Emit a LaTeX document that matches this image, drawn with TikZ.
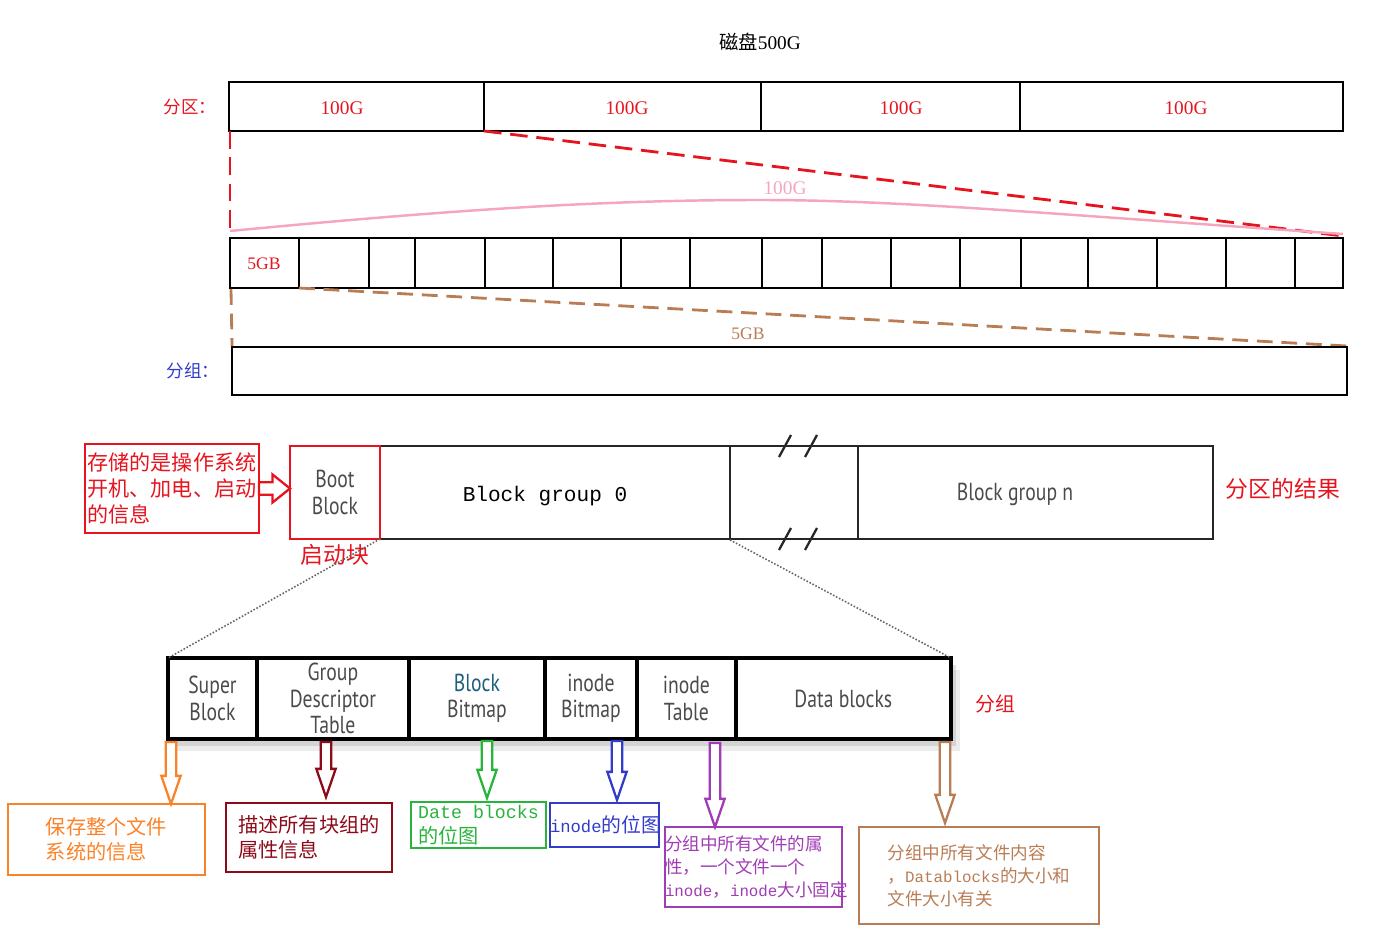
\documentclass[tikz,border=0pt]{standalone}
\usepackage{fontspec}
\setmainfont{Liberation Serif}
\newfontfamily\cjk{Noto Sans CJK SC}
\newfontfamily\codefont{Liberation Mono}
\newfontfamily\condfont[FakeStretch=0.8]{PT Sans}
\usepackage{tikz}
\usetikzlibrary{arrows.meta,calc,shadows}

\definecolor{cRed}{RGB}{230,20,30}
\definecolor{cPink}{RGB}{245,165,190}
\definecolor{cBrown}{RGB}{185,125,85}
\definecolor{cBlue}{RGB}{50,60,200}
\definecolor{cOrange}{RGB}{250,130,40}
\definecolor{cDarkRed}{RGB}{140,10,25}
\definecolor{cGreen}{RGB}{40,180,60}
\definecolor{cPurple}{RGB}{160,60,180}
\definecolor{cGray}{RGB}{75,75,75}
\definecolor{cTeal}{RGB}{30,95,125}

\begin{document}
\begin{tikzpicture}[x=0.02cm, y=-0.02cm, >=Stealth,
    row/.style={line width=1.6pt},
    cell/.style={draw, line width=2pt, minimum height=1.62cm, inner sep=0pt, outer sep=0pt,
      anchor=north west, align=center, text=cGray, font=\condfont\fontsize{14}{15}\selectfont},
    note/.style={draw=#1, line width=1.4pt, text=#1, inner sep=0pt, outer sep=0pt, anchor=north west,
      align=left, font=\cjk\fontsize{11.5}{14.5}\selectfont},
    hollow/.style={draw=#1, line width=1.3pt, fill=white,
      to path={let \p1=(\tikztostart), \p2=(\tikztotarget) in
        (\x1-3pt,\y1) -- (\x1-3pt,\y2+16pt) -- (\x1-5.5pt,\y2+16pt) -- (\x1,\y2)
        -- (\x1+5.5pt,\y2+16pt) -- (\x1+3pt,\y2+16pt) -- (\x1+3pt,\y1) -- cycle}},
    hollowR/.style={draw=#1, line width=1.3pt, fill=white,
      to path={let \p1=(\tikztostart), \p2=(\tikztotarget) in
        (\x1,\y1+3.6pt) -- (\x2-10pt,\y1+3.6pt) -- (\x2-10pt,\y1+8pt) -- (\x2,\y1)
        -- (\x2-10pt,\y1-8pt) -- (\x2-10pt,\y1-3.6pt) -- (\x1,\y1-3.6pt) -- cycle}}]
    \useasboundingbox (0,0) rectangle (1400,935);

    % Disk title
    \node[font=\fontsize{11}{13}\selectfont] (disk) at (760,42) {{\cjk 磁盘}500G};

    % Partition row
    \node[cRed, font=\cjk\fontsize{10}{12}\selectfont] (partlbl) at (190,107) {分区：};
    \draw[row] (229,82) rectangle (1343,131);
    \foreach \x in {484,761,1020} \draw[row] (\x,82) -- (\x,131);
    \foreach \x [count=\i] in {342,627,901,1186}
        \node[cRed, font=\fontsize{11}{13}\selectfont] (part\i) at (\x,108) {100G};

    % Zoom of first partition
    \draw[cRed, line width=1.6pt, dash pattern=on 10pt off 5pt] (230,131) -- (230,236);
    \draw[cRed, line width=1.6pt, dash pattern=on 10pt off 5pt] (484,131) -- (1343,236);
    \draw[cPink, line width=1.4pt] (230,231) .. controls (450,210) and (600,200) .. (760,200)
        .. controls (900,200) and (1050,214) .. (1343,234);
    \node[cPink, font=\fontsize{11}{13}\selectfont] (pinklbl) at (785,188) {100G};

    % Row of 5GB groups
    \draw[row] (230,238) rectangle (1343,288);
    \foreach \x in {299,369,415,485,553,621,690,762,822,891,960,1021,1088,1157,1226,1295}
        \draw[row] (\x,238) -- (\x,288);
    \node[cRed, font=\fontsize{10}{12}\selectfont] (first) at (264,264) {5GB};

    % Zoom of first group
    \draw[cBrown, line width=1.6pt, dash pattern=on 9pt off 5pt] (231,289) -- (232,346);
    \draw[cBrown, line width=1.6pt, dash pattern=on 9pt off 5pt] (299,288) -- (1347,346);
    \node[cBrown, font=\fontsize{10}{12}\selectfont] (brownlbl) at (748,334) {5GB};
    \node[cBlue, font=\cjk\fontsize{10}{12}\selectfont] (grplbl) at (193,371) {分组：};
    \draw[row] (232,347) rectangle (1347,395);

    % Partition layout: block groups
    \draw[line width=1.6pt, black!85] (290,446) rectangle (1213,539);
    \foreach \x in {730,858} \draw[line width=1.6pt, black!85] (\x,446) -- (\x,539);
    \foreach \dx in {0,26} \foreach \yy in {446,539}
        \draw[line width=1.3pt, black!85] (779+\dx,\yy+11) -- (791+\dx,\yy-11);
    \node[draw=cRed, line width=1.6pt, minimum width=1.8cm, minimum height=1.86cm, anchor=north west,
        outer sep=0pt, align=center, text=cGray, font=\condfont\fontsize{14}{15}\selectfont]
        (boot) at (290,446) {Boot\\Block};
    \node[font=\codefont\fontsize{12}{14}\selectfont] (bg0) at (545,496) {Block group 0};
    \node[text=cGray, font=\condfont\fontsize{14}{15}\selectfont] (bgn) at (1015,494) {Block group n};
    \coordinate (bg0se) at (730,540);
    \node[cRed, font=\cjk\fontsize{13}{15}\selectfont] (result) at (1283,489) {分区的结果};
    \node[cRed, font=\cjk\fontsize{13}{15}\selectfont] (bootlbl) at (335,555) {启动块};
    \node[note=cRed, font=\cjk\fontsize{12}{14.7}\selectfont, minimum width=3.48cm, minimum height=1.78cm]
        (bootnote) at (85,444) {存储的是操作系统\\开机、加电、启动\\的信息};
    \draw[hollowR=cRed] (bootnote.east) to (boot.west |- bootnote.east);

    % Block group layout
    \fill[white, drop shadow={opacity=0.22, shadow xshift=3pt, shadow yshift=-4pt},
        drop shadow={opacity=0.15, shadow xshift=5pt, shadow yshift=-7pt}] (168,658) rectangle (951,739);
    \node[cell, minimum width=1.78cm] (sb) at (168,658) {Super\\Block};
    \node[cell, minimum width=3.04cm] (gd) at (sb.north east) {Group\\Descriptor\\Table};
    \node[cell, minimum width=2.72cm] (bb) at (gd.north east) {\textcolor{cTeal}{Block}\\Bitmap};
    \node[cell, minimum width=1.84cm] (ib) at (bb.north east) {inode\\Bitmap};
    \node[cell, minimum width=1.98cm] (it) at (ib.north east) {inode\\Table};
    \node[cell, minimum width=4.3cm] (db) at (it.north east) {Data blocks};
    \draw[densely dotted, line width=0.9pt, black!60] (boot.south east) -- (sb.north west);
    \draw[densely dotted, line width=0.9pt, black!60] (bg0se) -- (db.north east);
    \node[cRed, font=\cjk\fontsize{11.3}{13}\selectfont] (grp) at (995,704) {分组};

    % Notes under each part
    \node[note=cOrange, minimum width=3.94cm, minimum height=1.42cm] (sbnote) at (8,804)
        {保存整个文件\\系统的信息};
    \node[note=cDarkRed, minimum width=3.32cm, minimum height=1.38cm] (gdnote) at (226,803)
        {描述所有块组的\\属性信息};
    \node[note=cGreen, minimum width=2.7cm, minimum height=0.92cm, font=\cjk\fontsize{11.5}{14}\selectfont]
        (bbnote) at (411,802) {{\codefont\fontsize{10.4}{14}\selectfont Date blocks}\\的位图};
    \node[note=cBlue, text width=2.18cm, minimum height=0.88cm,
        font=\cjk\fontsize{11.3}{14}\selectfont]
        (ibnote) at (550,803) {{\codefont\fontsize{9.8}{14}\selectfont inode}的位图};
    \node[note=cPurple, text width=3.54cm, minimum height=1.6cm,
        font=\cjk\fontsize{10}{13.3}\selectfont]
        (itnote) at (665,827) {分组中所有文件的属\\性，一个文件一个\\{\codefont\fontsize{9}{13.3}\selectfont inode}，{\codefont\fontsize{9}{13.3}\selectfont inode}大小固定};
    \node[note=cBrown, minimum width=4.8cm, minimum height=1.94cm, font=\cjk\fontsize{10}{13}\selectfont]
        (dbnote) at (859,827) {分组中所有文件内容\\，{\codefont\fontsize{9}{13}\selectfont Datablocks}的大小和\\文件大小有关};

    % Hollow arrows
    \coordinate (sbA) at (171,742);
    \coordinate (gdA) at (326,742);
    \coordinate (bbA) at (487,741);
    \coordinate (ibA) at (617,741);
    \coordinate (itA) at (715,743);
    \coordinate (dbA) at (945,742);
    \draw[hollow=cOrange] (sbA) to (sbA |- sbnote.north);
    \draw[hollow=cDarkRed] (gdA) to ($(gdA |- gdnote.north)+(0,-6)$);
    \draw[hollow=cGreen] (bbA) to ($(bbA |- bbnote.north)+(0,-4)$);
    \draw[hollow=cBlue] (ibA) to ($(ibA |- ibnote.north)+(0,-3)$);
    \draw[hollow=cPurple] (itA) to (itA |- itnote.north);
    \draw[hollow=cBrown] (dbA) to ($(dbA |- dbnote.north)+(0,-4)$);
\end{tikzpicture}
\end{document}
